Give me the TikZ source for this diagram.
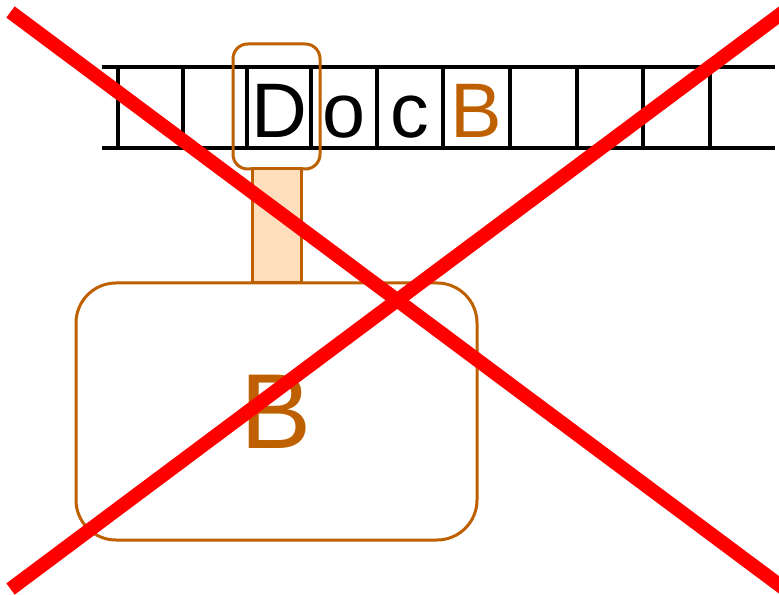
\documentclass[tikz,border=0pt]{standalone}
\usepackage{fontspec}
\setmainfont{Liberation Sans}
\usetikzlibrary{positioning}
\definecolor{headorange}{RGB}{191,96,0}
\definecolor{stempeach}{RGB}{255,222,189}

\begin{document}
\begin{tikzpicture}[x=0.75pt, y=-0.75pt,
  tapeline/.style={line width=3pt, black},
  tapesym/.style={anchor=base, inner sep=0pt, font={\fontsize{58}{70}\selectfont}},
  headbox/.style={draw=headorange, line width=2.25pt, rounded corners=11pt, outer sep=0pt, inner sep=0pt, minimum width=65.25pt, minimum height=93.75pt},
  stembox/.style={draw=headorange, fill=stempeach, line width=2.25pt, outer sep=0pt, inner sep=0pt, minimum width=36.75pt, minimum height=85.5pt},
  statebox/.style={draw=headorange, line width=2.25pt, rounded corners=30pt, outer sep=0pt, minimum width=300.75pt, minimum height=192.75pt, text=headorange, font={\fontsize{80}{96}\selectfont}},
  crossline/.style={line width=10.5pt, red}
]
\useasboundingbox (0,0) rectangle (779,595);
\draw[tapeline] (102,67) -- (775,67);
\draw[tapeline] (102,148) -- (775,148);
\foreach \x in {118,183,247,311,377,443,510,577,643,710}
  \draw[tapeline] (\x,67) -- (\x,148);
\node[tapesym] (symd) at (279,138) {D};
\node[tapesym] (symo) at (344,138) {o};
\node[tapesym] (symc) at (410,138) {c};
\node[tapesym, text=headorange] (symb) at (476.5,138) {B};
\node[headbox] (head) at (276.5,106.5) {};
\node[stembox, below=0pt of head] (stem) {};
\node[statebox, below=0pt of stem] (state) {B};
\coordinate (xa) at (10.5,12);
\coordinate (xb) at (790,593);
\coordinate (xc) at (10.5,589);
\coordinate (xd) at (790,7);
\draw[crossline] (xa) -- (xb);
\draw[crossline] (xc) -- (xd);
\end{tikzpicture}
\end{document}
